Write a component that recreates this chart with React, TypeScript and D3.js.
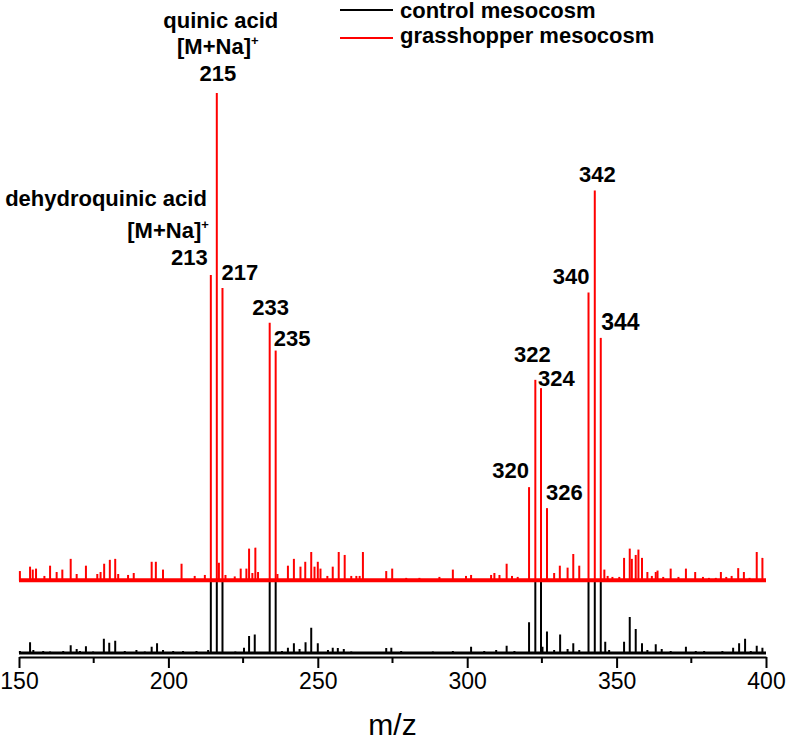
import React, { useRef, useEffect } from 'react';
import * as d3 from 'd3';

// labelled peaks (m/z positions, labels as printed)
const majorLabels = ['213', '215', '217', '233', '235', '320', '322', '324', '326', '340', '342', '344'];
const majorMz = [214.2, 216.2, 218.1, 233.9, 235.9, 320.7, 322.8, 324.7, 326.7, 340.6, 342.7, 344.7];
// relative intensity, 215 = 100
const grasshopperMajor = [62.7, 100, 60.0, 52.9, 47.2, 19.2, 41.2, 39.5, 14.9, 59.1, 80.0, 49.8];
// control trace: big ones run off the top of its panel (drawn clipped)
const controlMajor = [30, 30, 30, 30, 30, 6.3, 30, 30, 4.4, 30, 30, 30];

// small peaks [m/z, intensity]
const grasshopperMinor: [number, number][] = [
  [150.3, 2.0], [153.7, 2.9], [154.6, 2.3], [155.7, 2.5], [158.5, 1.0], [160.4, 3.1],
  [162.6, 1.8], [164.5, 2.3], [167.3, 4.5], [169.3, 1.4], [172.4, 3.1], [176.2, 1.4],
  [177.3, 1.8], [178.5, 3.5], [180.4, 4.3], [182.2, 4.5], [183.2, 1.4], [186.5, 1.2],
  [188.4, 1.6], [194.4, 3.9], [195.8, 3.9], [198.2, 2.3], [204.4, 3.5], [208.8, 1.0],
  [212.2, 1.2], [216.9, 3.7], [219.1, 1.2], [222.2, 0.9], [224.2, 2.5], [226.1, 2.5],
  [227.0, 6.6], [228.1, 1.6], [229.1, 6.8], [230.0, 1.8], [236.5, 1.4], [240.0, 3.1],
  [242.0, 4.5], [244.2, 2.9], [245.8, 3.9], [247.8, 5.9], [248.9, 2.9], [250.0, 3.9],
  [250.9, 2.5], [253.2, 1.0], [255.0, 2.9], [257.0, 5.9], [259.0, 5.3], [261.2, 1.0],
  [262.9, 1.0], [264.0, 1.0], [265.1, 5.9], [272.9, 2.0], [274.9, 2.5], [279.6, 0.6],
  [284.0, 0.6], [290.7, 0.8], [295.2, 2.3], [299.6, 1.0], [301.3, 1.2], [308.0, 1.2],
  [309.1, 1.6], [310.8, 1.2], [313.2, 3.5], [315.0, 1.0], [316.9, 0.8], [329.1, 1.6],
  [331.0, 3.1], [333.6, 2.7], [335.5, 5.5], [337.5, 3.1], [345.9, 2.3], [347.0, 1.0],
  [348.6, 0.8], [350.9, 0.8], [352.5, 4.7], [354.4, 6.6], [355.1, 4.5], [356.4, 5.3],
  [357.3, 6.4], [358.5, 4.7], [360.3, 1.8], [361.8, 1.0], [363.1, 1.8], [363.7, 2.1],
  [365.6, 0.8], [368.1, 2.5], [370.7, 0.8], [373.2, 2.5], [376.3, 1.8], [378.9, 0.8],
  [380.9, 0.6], [383.2, 0.6], [384.9, 1.8], [386.7, 0.8], [388.5, 1.0], [390.7, 2.6],
  [392.6, 1.8], [394.5, 0.6], [396.9, 5.9], [398.8, 4.7]
];

const controlMinor: [number, number][] = [
  [150.3, 0.4], [153.7, 2.2], [154.8, 0.6], [158.1, 0.4], [160.4, 0.3], [164.8, 0.4],
  [167.3, 1.6], [169.3, 0.8], [170.4, 0.4], [172.4, 1.4], [174.8, 0.3], [178.4, 2.9],
  [180.2, 2.1], [182.2, 2.5], [185.4, 0.4], [189.3, 0.6], [192.1, 0.3], [194.4, 1.3],
  [196.2, 2.0], [198.2, 0.6], [201.6, 0.4], [204.9, 0.4], [209.4, 0.4], [213.3, 0.6],
  [222.4, 0.3], [225.3, 1.1], [227.0, 3.5], [228.9, 3.8], [238.0, 0.4], [240.0, 1.1],
  [242.0, 2.0], [243.9, 0.8], [245.9, 2.2], [247.8, 5.2], [250.0, 2.0], [253.4, 0.6],
  [255.0, 1.1], [256.7, 1.0], [258.7, 0.8], [261.2, 0.3], [272.9, 1.0], [274.6, 1.1],
  [277.9, 0.4], [280.1, 0.2], [288.5, 0.3], [295.2, 0.4], [301.3, 1.3], [305.7, 0.4],
  [309.7, 0.6], [313.2, 1.5], [315.8, 0.4], [325.2, 1.3], [329.1, 0.6], [331.1, 3.8],
  [333.6, 0.8], [335.5, 2.0], [337.5, 0.6], [346.2, 2.3], [347.5, 0.6], [352.5, 2.3],
  [354.4, 7.4], [356.4, 4.9], [358.5, 2.0], [360.3, 0.6], [363.1, 1.8], [365.1, 0.8],
  [368.1, 0.4], [373.2, 1.3], [376.5, 0.4], [379.3, 0.4], [385.4, 0.4], [389.0, 1.1],
  [391.0, 2.0], [393.0, 2.9], [394.9, 0.4], [396.9, 1.5], [398.8, 1.1]
];

const majorTicks = [150, 200, 250, 300, 350, 400];
const minorTicks = [175, 225, 275, 325, 375];
const seriesNames = ['control mesocosm', 'grasshopper mesocosm'];
const seriesColors = ['#000000', '#ff0000'];
const compoundNames = ['quinic acid', 'dehydroquinic acid'];

const FONT = '"Liberation Sans", Arial, Helvetica, sans-serif';
const RED_OFFSET = 14.8; // grasshopper trace is stacked above control

const App: React.FC = () => {
  const svgRef = useRef<SVGSVGElement>(null);
  const width = 788;
  const height = 746;

  useEffect(() => {
    if (!svgRef.current) return;
    const svg = d3.select(svgRef.current);
    svg.selectAll('*').remove();

    const x = d3.scaleLinear().domain([150, 400]).range([19, 766]);
    const y = d3.scaleLinear().domain([0, 114.8]).range([653, 93]);
    const axisY = 657;

    svg.append('defs').append('clipPath').attr('id', 'ctrl-clip')
      .append('rect')
      .attr('x', 0).attr('y', y(RED_OFFSET))
      .attr('width', width).attr('height', height);

    // control trace
    const ctrl = svg.append('g');
    ctrl.append('line')
      .attr('x1', x(150)).attr('x2', x(400))
      .attr('y1', y(0)).attr('y2', y(0))
      .attr('stroke', seriesColors[0]).attr('stroke-width', 3);
    const ctrlPeaks: [number, number][] = majorMz.map((m, i) => [m, controlMajor[i]] as [number, number]).concat(controlMinor);
    ctrl.append('g').attr('clip-path', 'url(#ctrl-clip)')
      .selectAll('line')
      .data(ctrlPeaks)
      .enter().append('line')
      .attr('x1', d => x(d[0])).attr('x2', d => x(d[0]))
      .attr('y1', y(0)).attr('y2', d => y(d[1]))
      .attr('stroke', seriesColors[0]).attr('stroke-width', 2);

    // grasshopper trace
    const red = svg.append('g');
    red.append('line')
      .attr('x1', x(150)).attr('x2', x(400))
      .attr('y1', y(RED_OFFSET) - 0.5).attr('y2', y(RED_OFFSET) - 0.5)
      .attr('stroke', seriesColors[1]).attr('stroke-width', 4);
    const redPeaks: [number, number][] = majorMz.map((m, i) => [m, grasshopperMajor[i]] as [number, number]).concat(grasshopperMinor);
    red.selectAll('line.pk')
      .data(redPeaks)
      .enter().append('line')
      .attr('class', 'pk')
      .attr('x1', d => x(d[0])).attr('x2', d => x(d[0]))
      .attr('y1', y(RED_OFFSET)).attr('y2', d => y(RED_OFFSET + d[1]))
      .attr('stroke', seriesColors[1]).attr('stroke-width', 2);

    // x axis
    const axis = svg.append('g').attr('transform', `translate(0,${axisY})`);
    axis.call(
      d3.axisBottom(x).tickValues(majorTicks).tickSize(11).tickSizeOuter(0)
        .tickPadding(5).tickFormat(d3.format('d'))
    );
    axis.select('.domain').attr('stroke-width', 2);
    axis.selectAll('.tick line').attr('stroke-width', 2);
    axis.selectAll('.tick text')
      .style('font-family', FONT).style('font-size', '23px').attr('fill', '#000');
    axis.selectAll('.minor')
      .data(minorTicks)
      .enter().append('line')
      .attr('class', 'minor')
      .attr('x1', d => x(d)).attr('x2', d => x(d))
      .attr('y1', 0).attr('y2', 6)
      .attr('stroke', '#000').attr('stroke-width', 2);

    svg.append('text')
      .attr('x', (x(150) + x(400)) / 2).attr('y', 735)
      .attr('text-anchor', 'middle')
      .style('font-family', FONT).style('font-size', '30px')
      .text('m/z');

    // legend
    const legend = svg.append('g');
    seriesNames.forEach((name, i) => {
      const ly = i === 0 ? 10 : 38;
      legend.append('line')
        .attr('x1', 340).attr('x2', 393).attr('y1', ly).attr('y2', ly)
        .attr('stroke', seriesColors[i]).attr('stroke-width', 2);
      legend.append('text')
        .attr('x', 400).attr('y', i === 0 ? 18 : 43)
        .style('font-family', FONT).style('font-size', '22px').style('font-weight', 'bold')
        .text(name);
    });

    // peak labels
    const labelLayout: Record<string, { anchor: string; dx: number; dy: number; size?: number }> = {
      '213': { anchor: 'end', dx: -3, dy: -10 },
      '215': { anchor: 'middle', dx: 1, dy: -12 },
      '217': { anchor: 'start', dx: -1, dy: -8 },
      '233': { anchor: 'middle', dx: 1, dy: -8 },
      '235': { anchor: 'start', dx: -2, dy: -5 },
      '320': { anchor: 'end', dx: 0, dy: -9 },
      '322': { anchor: 'middle', dx: -3, dy: -18 },
      '324': { anchor: 'start', dx: -3, dy: -2 },
      '326': { anchor: 'start', dx: -1, dy: -8 },
      '340': { anchor: 'end', dx: 1, dy: -9 },
      '342': { anchor: 'middle', dx: 2.5, dy: -9 },
      '344': { anchor: 'start', dx: 0.5, dy: -8, size: 23 }
    };
    const labels = svg.append('g')
      .style('font-family', FONT).style('font-weight', 'bold');

    majorLabels.forEach((lab, i) => {
      const L = labelLayout[lab];
      const px = x(majorMz[i]);
      const py = y(RED_OFFSET + grasshopperMajor[i]);
      labels.append('text')
        .attr('x', px + L.dx).attr('y', py + L.dy)
        .attr('text-anchor', L.anchor)
        .style('font-size', `${L.size || 22}px`)
        .text(lab);
    });

    // compound annotations: name, adduct, then the m/z label
    const addCompound = (name: string, peakIdx: number, anchor: string, dx: number, nameDy: number, adductDy: number, adductDx: number) => {
      const px = x(majorMz[peakIdx]);
      const py = y(RED_OFFSET + grasshopperMajor[peakIdx]);
      const L = labelLayout[majorLabels[peakIdx]];
      const base = py + L.dy;
      labels.append('text')
        .attr('x', px + dx).attr('y', base + nameDy)
        .attr('text-anchor', anchor)
        .style('font-size', '22px')
        .text(name);
      const t = labels.append('text')
        .attr('x', px + adductDx).attr('y', base + adductDy)
        .attr('text-anchor', anchor)
        .style('font-size', '22px');
      t.append('tspan').text('[M+Na]');
      t.append('tspan').attr('dy', -9).style('font-size', '13px').text('+');
    };
    addCompound(compoundNames[0], 1, 'middle', 4, -53, -27, 1);
    addCompound(compoundNames[1], 0, 'end', -4, -59, -27, -2);
  }, []);

  return (
    <svg
      ref={svgRef}
      width={width}
      height={height}
      style={{ position: 'absolute', left: 0, top: 0, background: '#fff' }}
      viewBox={`0 0 ${width} ${height}`}
    />
  );
};

export default App;
